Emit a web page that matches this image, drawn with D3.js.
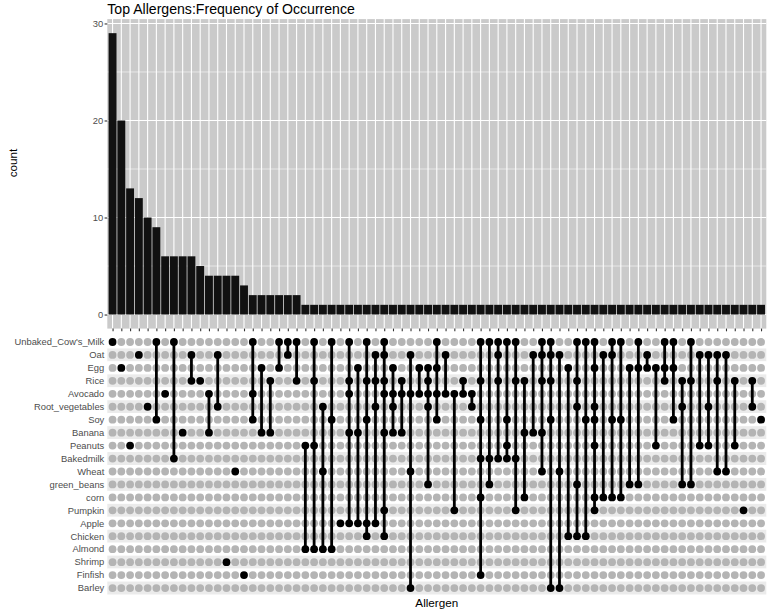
<!DOCTYPE html>
<html>
<head>
<meta charset="utf-8">
<script src="https://cdn.jsdelivr.net/npm/d3@7"></script>
<style>
  body { margin: 0; background: #fff; }
  text { font-family: "Liberation Sans", Arial, Helvetica, sans-serif; }
</style>
</head>
<body>
<script>
// allergen sets, top to bottom in the matrix
const sets = ["Unbaked_Cow's_Milk", "Oat", "Egg", "Rice", "Avocado", "Root_vegetables", "Soy",
  "Banana", "Peanuts", "Bakedmilk", "Wheat", "green_beans", "corn", "Pumpkin", "Apple",
  "Chicken", "Almond", "Shrimp", "Finfish", "Barley"];

// one entry per bar, sets joined by "-"
const combos = [
  "Unbaked_Cow's_Milk", "Egg", "Peanuts", "Oat", "Root_vegetables",
  "Unbaked_Cow's_Milk-Soy", "Avocado", "Unbaked_Cow's_Milk-Bakedmilk", "Banana", "Oat-Rice",
  "Rice", "Avocado-Banana", "Oat-Root_vegetables", "Shrimp", "Wheat",
  "Finfish", "Unbaked_Cow's_Milk-Avocado-Soy", "Egg-Banana", "Rice-Banana", "Unbaked_Cow's_Milk-Egg",
  "Unbaked_Cow's_Milk-Oat", "Unbaked_Cow's_Milk-Rice", "Peanuts-Almond",
  "Unbaked_Cow's_Milk-Rice-Peanuts-Almond", "Root_vegetables-Wheat-Almond",
  "Unbaked_Cow's_Milk-Soy-Almond", "Apple", "Unbaked_Cow's_Milk-Rice-Avocado-Banana-Apple",
  "Egg-Banana-Apple", "Unbaked_Cow's_Milk-Rice-Soy-Apple-Chicken",
  "Oat-Rice-Root_vegetables-Apple", "Unbaked_Cow's_Milk-Oat-Rice-Avocado-Banana-Pumpkin-Chicken",
  "Egg-Avocado-Root_vegetables-Banana", "Rice-Avocado-Banana", "Oat-Avocado-Wheat-Barley",
  "Egg-Avocado", "Egg-Rice-Avocado-Root_vegetables-green_beans",
  "Unbaked_Cow's_Milk-Egg-Avocado-Soy", "Oat-Avocado", "Avocado-Pumpkin", "Rice-Avocado",
  "Avocado-Root_vegetables", "Unbaked_Cow's_Milk-Rice-Soy-Bakedmilk-corn-Finfish",
  "Unbaked_Cow's_Milk-Bakedmilk-green_beans", "Unbaked_Cow's_Milk-Oat-Rice-Bakedmilk",
  "Unbaked_Cow's_Milk-Soy-Peanuts-Bakedmilk", "Unbaked_Cow's_Milk-Rice-Bakedmilk-Pumpkin",
  "Rice-Banana-corn", "Oat-Banana", "Unbaked_Cow's_Milk-Oat-Rice-Banana-Wheat",
  "Unbaked_Cow's_Milk-Oat-Rice-Soy-Barley", "Oat-Wheat-Barley", "Egg-Chicken",
  "Unbaked_Cow's_Milk-Rice-Root_vegetables-green_beans-Chicken", "Unbaked_Cow's_Milk-Soy-Chicken",
  "Unbaked_Cow's_Milk-Egg-Root_vegetables-Soy-Peanuts-corn-Pumpkin", "Oat-corn",
  "Unbaked_Cow's_Milk-Oat-Soy-corn", "Unbaked_Cow's_Milk-Soy-corn", "Egg-green_beans",
  "Unbaked_Cow's_Milk-Egg-green_beans", "Oat-Egg", "Egg-Peanuts", "Unbaked_Cow's_Milk-Egg-Rice",
  "Unbaked_Cow's_Milk-Egg-Soy", "Rice-Root_vegetables-green_beans", "Unbaked_Cow's_Milk-Rice-green_beans",
  "Oat-Peanuts", "Oat-Root_vegetables-Peanuts", "Oat-Rice-Wheat", "Oat-Wheat", "Rice-Peanuts",
  "Pumpkin", "Rice-Root_vegetables", "Soy"
];

const counts = [29, 20, 13, 12, 10, 9, 6, 6, 6, 6, 5, 4, 4, 4, 4, 3, 2, 2, 2, 2, 2, 2,
  1, 1, 1, 1, 1, 1, 1, 1, 1, 1, 1, 1, 1, 1, 1, 1, 1, 1, 1, 1, 1, 1, 1, 1, 1, 1, 1, 1,
  1, 1, 1, 1, 1, 1, 1, 1, 1, 1, 1, 1, 1, 1, 1, 1, 1, 1, 1, 1, 1, 1, 1, 1, 1];

const yTicks = [0, 10, 20, 30];
const yMinor = [5, 15, 25];

const W = 767, H = 611;
const pLeft = 107.3, pRight = 766.3, pTop = 19.1, pBottom = 328.6;
const mTop = 335.5, mBottom = 594.5;

const svg = d3.select('body').append('svg')
  .attr('width', W)
  .attr('height', H);

const x = d3.scalePoint()
  .domain(d3.range(combos.length))
  .range([pLeft, pRight])
  .padding(0.6);

const y = d3.scaleLinear()
  .domain([-1.45, 30.45])
  .range([pBottom, pTop]);

const row = d3.scaleBand()
  .domain(sets)
  .range([mTop, mBottom]);

const barW = x.step() * 0.9;

// bar panel
svg.append('rect')
  .attr('x', pLeft).attr('y', pTop)
  .attr('width', pRight - pLeft).attr('height', pBottom - pTop)
  .attr('fill', '#cacaca');

svg.append('g').selectAll('line')
  .data(yMinor)
  .join('line')
    .attr('x1', pLeft).attr('x2', pRight)
    .attr('y1', d => y(d)).attr('y2', d => y(d))
    .attr('stroke', '#fff').attr('stroke-width', 0.55);

svg.append('g').selectAll('line')
  .data(yTicks)
  .join('line')
    .attr('x1', pLeft).attr('x2', pRight)
    .attr('y1', d => y(d)).attr('y2', d => y(d))
    .attr('stroke', '#fff').attr('stroke-width', 1.1);

svg.append('g').selectAll('line')
  .data(x.domain())
  .join('line')
    .attr('x1', d => x(d)).attr('x2', d => x(d))
    .attr('y1', pTop).attr('y2', pBottom)
    .attr('stroke', '#fff').attr('stroke-width', 1.1);

svg.append('g').selectAll('rect')
  .data(counts)
  .join('rect')
    .attr('x', (d, i) => x(i) - barW / 2)
    .attr('width', barW)
    .attr('y', d => y(d))
    .attr('height', d => y(0) - y(d))
    .attr('fill', '#111');

// axes
const yAxis = svg.append('g')
  .attr('transform', `translate(${pLeft},0)`)
  .call(d3.axisLeft(y).tickValues(yTicks).tickSize(2.7).tickPadding(1.4));

const xAxis = svg.append('g')
  .attr('transform', `translate(0,${pBottom})`)
  .call(d3.axisBottom(x).tickSize(2.7).tickFormat(''));

[yAxis, xAxis].forEach(a => {
  a.select('.domain').remove();
  a.selectAll('.tick line').attr('stroke', '#333').attr('stroke-width', 1.1);
  a.selectAll('text').attr('fill', '#4d4d4d').style('font-size', '9.4px');
});

// combination matrix
svg.append('g').selectAll('rect')
  .data(sets)
  .join('rect')
    .attr('x', pLeft)
    .attr('width', pRight - pLeft)
    .attr('y', d => row(d))
    .attr('height', row.bandwidth())
    .attr('fill', (d, i) => i % 2 ? '#ebebeb' : '#fff');

const cy = s => row(s) + row.bandwidth() / 2;

const cells = [];
combos.forEach((c, i) => {
  const members = c.split('-');
  sets.forEach(s => cells.push({i, s, on: members.includes(s)}));
});

svg.append('g').selectAll('circle')
  .data(cells.filter(d => !d.on))
  .join('circle')
    .attr('cx', d => x(d.i))
    .attr('cy', d => cy(d.s))
    .attr('r', 3.9)
    .attr('fill', '#b4b4b4');

svg.append('g').selectAll('line')
  .data(combos.map((c, i) => ({i, ys: c.split('-').map(cy)})).filter(d => d.ys.length > 1))
  .join('line')
    .attr('x1', d => x(d.i)).attr('x2', d => x(d.i))
    .attr('y1', d => d3.min(d.ys)).attr('y2', d => d3.max(d.ys))
    .attr('stroke', '#000')
    .attr('stroke-width', 2.8);

svg.append('g').selectAll('circle')
  .data(cells.filter(d => d.on))
  .join('circle')
    .attr('cx', d => x(d.i))
    .attr('cy', d => cy(d.s))
    .attr('r', 3.9)
    .attr('fill', '#000');

svg.append('g').selectAll('text')
  .data(sets)
  .join('text')
    .attr('x', pLeft - 3)
    .attr('y', d => cy(d))
    .attr('dy', '0.35em')
    .attr('text-anchor', 'end')
    .attr('fill', '#4d4d4d')
    .style('font-size', '9.4px')
    .text(d => d);

// titles
svg.append('text')
  .attr('x', pLeft)
  .attr('y', 14)
  .style('font-size', '14.1px')
  .text('Top Allergens:Frequency of Occurrence');

svg.append('text')
  .attr('transform', 'translate(16.5,163) rotate(-90)')
  .attr('text-anchor', 'middle')
  .style('font-size', '11.7px')
  .text('count');

svg.append('text')
  .attr('x', (pLeft + pRight) / 2)
  .attr('y', 607)
  .attr('text-anchor', 'middle')
  .style('font-size', '11.7px')
  .text('Allergen');
</script>
</body>
</html>
